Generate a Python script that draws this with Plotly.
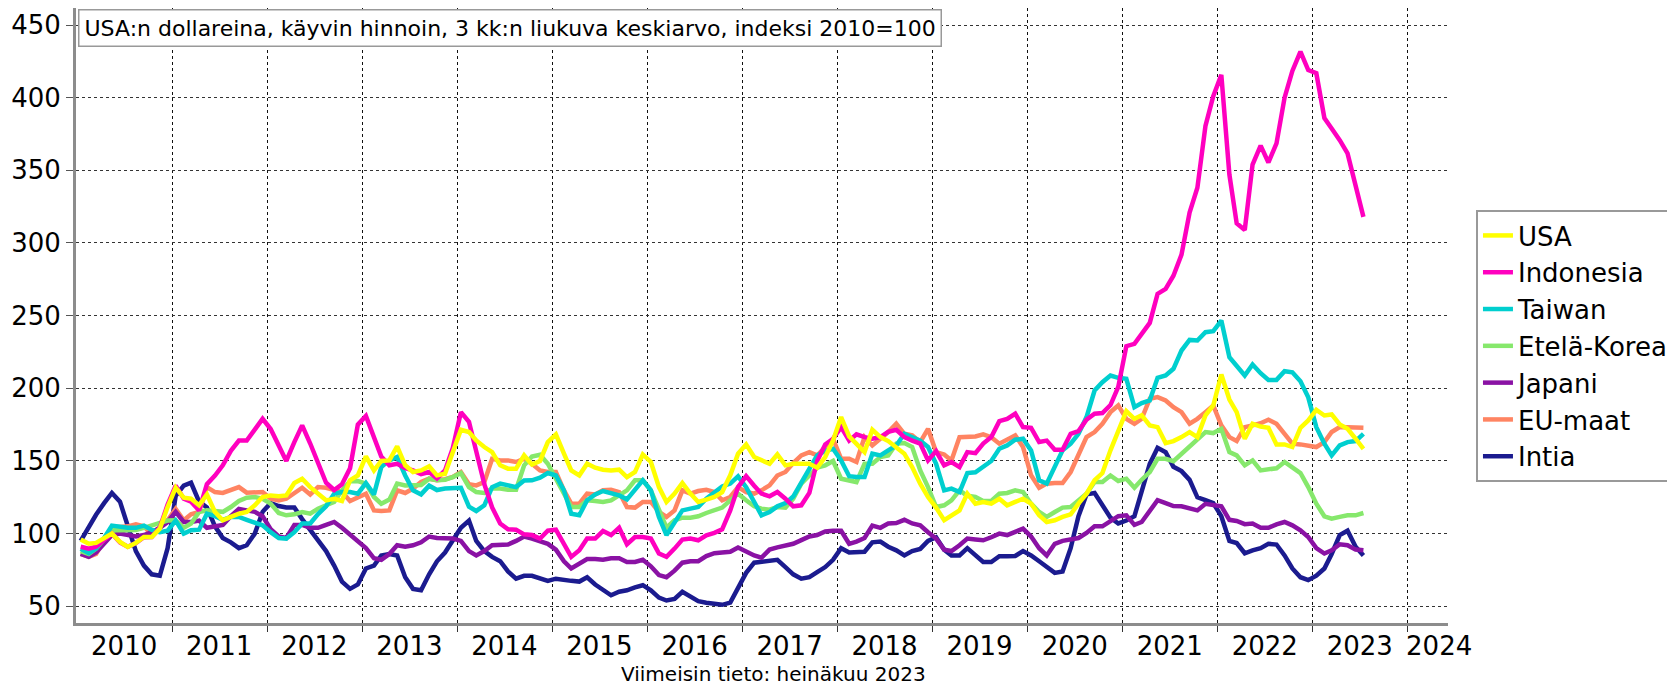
import pandas as pd
import plotly.graph_objects as go

# Monthly 3-month moving average, index 2010=100, Jan 2010 .. Jul 2023
months = pd.date_range("2010-01-01", "2023-07-01", freq="MS") + pd.Timedelta(days=14)

usa = [
    96, 93, 93.6, 96.6, 100, 94.3, 90.8, 93.6, 97.7, 97.7, 103.4, 118.3,
    131.6, 124.7, 124, 119.5, 127, 114.9, 109.2, 111.5, 113.7, 114.9, 119.5, 125.2,
    126.3, 125.7, 126.3, 134.8, 137.8, 132, 127.5, 122.9, 124, 122.5, 136.7, 140.1,
    153.2, 143.5, 150, 150.4, 160, 147, 142.4, 143.5, 146.3, 140.1, 141.2, 157.3,
    171.5, 169.9, 164.1, 159.6, 156.1, 147, 144.7, 144.7, 153.8, 147.5, 150, 163,
    168.3, 155, 143.5, 140.1, 148.1, 145.4, 144, 143.5, 144, 138.9, 142.4, 154.5,
    149.3, 132, 121.8, 127.5, 134.8, 127.5, 121.8, 123.4, 125.2, 128.6, 140.1, 155,
    161.4, 152.7, 150.4, 148.1, 154.5, 147, 148.1, 148.1, 148.1, 145.4, 152.7, 164.1,
    180.2, 166.9, 161.9, 156.1, 171.5, 166.4, 163.7, 159.6, 155, 145.8, 134.4, 125.2,
    117.9, 109.2, 112.6, 116, 127.5, 120.6, 121.8, 120.6, 124, 119.5, 121.8, 124,
    120.6, 112.6, 108, 109.2, 111.5, 113.3, 120.6, 127.5, 136.7, 141.7, 157.3, 171,
    184.3, 179, 181.4, 174.5, 173.3, 162.3, 163.7, 166.4, 169.9, 166.4, 181.3, 188.2,
    209.5, 192.3, 183.6, 165.3, 175.6, 173.7, 172.8, 161.4, 161.4, 159.6, 172.8, 177.9,
    185.2, 181.3, 182, 175.1, 172.1, 165.3, 158.4,
]
indonesia = [
    91, 89.7, 91, 96, 100, 94, 91, 93.5, 97.5, 97.7, 104, 120,
    133, 124, 122, 116, 134, 140, 147, 157, 164, 164, 171, 179,
    172, 160, 150, 163, 174.5, 162, 149, 135, 130, 134, 145, 175,
    181, 166, 153, 147, 148, 145, 143.5, 141, 142.4, 138, 143.5, 159,
    183.6, 177, 157, 134, 118, 107, 103, 102.7, 99.5, 99, 96.6, 102,
    102.7, 93, 84, 88.5, 96.6, 96.6, 101.8, 99, 104, 92.7, 97.7, 97.7,
    96.6, 86.3, 84, 89.7, 95.9, 96.6, 95.4, 98.9, 100.5, 103, 116, 132,
    139.6, 133, 127.5, 125.7, 128.6, 124, 118.8, 119.5, 128, 150, 161.4, 165.3,
    173.3, 164, 168.3, 166.4, 165.3, 166.4, 170, 171.5, 166.4, 164, 162, 150.4,
    156.8, 147, 149.3, 145.8, 156.1, 155.4, 162, 166.4, 177.4, 179, 182.5, 173.3,
    172.8, 163, 164, 157.7, 157.7, 168.7, 170.6, 178.4, 182.5, 183, 188.5, 201,
    229, 230.6, 237, 245, 265, 268.4, 277.5, 292, 321, 338, 380.6, 401,
    415.7, 347, 313.5, 309, 354, 367, 355.4, 368.5, 400, 418.4, 431.7, 419,
    416.8, 386, 378.8, 370.8, 361.6, 338.2, 318,
]
taiwan = [
    89.5, 86.5, 89.7, 97, 105.5, 104.6, 104, 104, 105.5, 102.5, 101, 102,
    109, 100, 102.3, 102.7, 113.7, 112, 109.5, 111.5, 111.5, 109.5, 107.3, 105.7,
    101, 97, 96.6, 101, 107, 107, 113.5, 118.8, 127.5, 128.6, 128.6, 127.5,
    134.8, 127, 145.8, 150.4, 152.7, 140, 129.8, 127, 133, 130, 131, 131,
    131.6, 118.5, 115.6, 119.5, 132, 134.4, 133, 132, 136.5, 136.7, 138.5, 141.7,
    140, 129.8, 113.7, 112.6, 123, 127, 129.3, 128, 126.3, 123.6, 129.8, 136.7,
    129.8, 111.5, 99, 107, 116, 117.2, 118.3, 124, 128.6, 132.5, 134.4, 139.4,
    132, 121.8, 112.6, 114.9, 118.8, 121, 125.5, 135, 144.7, 153.8, 157, 158.4,
    150.4, 139.5, 138.9, 139, 155, 153.8, 157.3, 160.7, 168.7, 166.4, 164, 159.6,
    148, 129.8, 131, 128.6, 141.7, 142.2, 145.8, 150, 158.4, 160.7, 164.6, 165.3,
    157.3, 136.7, 134.4, 145.8, 157.3, 161.9, 168.7, 180.2, 198.5, 204.2, 208.8, 207.2,
    206.5, 187, 189.8, 191.6, 207.2, 208.8, 213.4, 226, 233.3, 232.9, 238.6, 239.3,
    246.6, 221.4, 215.6, 208.8, 216.4, 210.4, 205.8, 205.8, 211.8, 211, 204.9, 193.8,
    173.3, 161.9, 153.8, 160.7, 163, 163.7, 168.7,
]
etela_korea = [
    88, 86, 89.7, 96, 102.3, 102.3, 102.7, 102.5, 104, 105.5, 107, 109,
    109.2, 104, 107, 114.9, 116, 115.5, 115, 118.3, 122.5, 124.7, 125.2, 124,
    120.6, 114.2, 112.6, 113.3, 114.9, 113.7, 117.2, 119.5, 121.8, 129.8, 136, 136.2,
    134.4, 125.2, 120.6, 123.4, 134.4, 133.2, 133.2, 133.5, 137.8, 136.7, 137.1, 138.9,
    141.7, 132, 128.6, 128, 131, 131, 130.2, 130.2, 147, 153, 154.3, 148.1,
    137.8, 127.5, 118.3, 118.3, 122.9, 122.5, 121.8, 122.9, 126.3, 129.8, 136.7, 136.7,
    129.8, 116, 104.1, 109.2, 111, 111, 111.9, 114.2, 116.5, 117.9, 122.9, 127.5,
    122.9, 118.8, 117.2, 116.5, 118.3, 117.9, 124, 134.4, 140, 145.4, 147, 150,
    137.8, 136.2, 135.5, 148.1, 148.1, 152.7, 153.8, 161.9, 162.3, 159.6, 143.5, 132,
    118.3, 119.5, 122.9, 129.8, 126, 125.2, 122.5, 122.5, 127.5, 128, 129.8, 128.6,
    120.6, 114.9, 111.5, 114.9, 117.9, 118.3, 122.5, 127.5, 135.5, 135.5, 140, 136.2,
    137.8, 131.6, 137.1, 142.4, 151.5, 151.5, 149.9, 155, 160.7, 164.6, 169.9, 169.2,
    172.1, 156.1, 153.8, 147, 150.4, 143.5, 144.2, 145, 149.3, 145.8, 141.7, 132,
    120.6, 111.9, 110.3, 111.5, 112.6, 112.6, 114.2,
]
japani = [
    86, 84, 87, 93, 99, 100, 99, 98, 99, 101, 104, 108,
    115, 108, 108, 109, 104, 105, 106, 112, 117, 116, 115, 112,
    103, 98, 97, 106, 106, 104, 104, 106, 108, 104, 99, 94,
    90, 83, 82, 86, 92, 91, 92, 94, 98, 97, 96.6, 96.6,
    95, 88, 85, 88, 92, 92, 92.5, 95, 98, 96.6, 95, 93,
    89, 81, 76, 79, 82.5, 82.5, 82, 83, 83, 80.5, 80.5, 82,
    77.5, 71.5, 70, 74.5, 80, 81, 81, 84.5, 86.5, 87, 87.5, 90.5,
    87.5, 85, 83.5, 89, 90.5, 91.5, 93, 95.5, 98, 99, 101.5, 102,
    102, 93, 94.5, 97, 105.5, 104, 107, 107.3, 109.5, 107, 105.7, 101,
    96.6, 89, 88, 92, 96.6, 96, 95.4, 97.5, 100, 99, 101, 103.4,
    98, 90, 85, 93, 95, 96, 97, 100.5, 105, 105, 109, 112,
    112.6, 106, 108, 115, 123, 121, 119, 118.8, 117.5, 116, 120.5, 119.5,
    118.8, 109.5, 108.7, 106.5, 107, 104, 104, 106.4, 108, 105.7, 102.3, 97.7,
    90, 86.3, 88.5, 92.7, 92, 89, 88.5,
]
eu_maat = [
    86, 84, 86, 95.4, 104.6, 104.6, 105, 106.4, 105, 99, 104, 109.2,
    117, 109.2, 113.3, 114.9, 132, 128.6, 128, 129.8, 132, 128.2, 128.2, 128.6,
    124, 122.9, 124, 128, 131.6, 127, 132, 131.6, 129.8, 128.6, 122.5, 125.2,
    127.5, 116, 115.6, 116, 129.8, 128, 131, 135.5, 137.8, 136.7, 137.4, 139,
    142.4, 134, 133.2, 135.5, 151.5, 150.4, 150.4, 149.3, 151.5, 148.1, 143.5, 142.4,
    142.4, 129.8, 120.6, 120.6, 127.5, 127, 129.8, 130.2, 128.6, 118.3, 117.9, 121.8,
    121.8, 114.9, 111.5, 116, 129.8, 127.5, 129.3, 130.2, 128.6, 122.9, 125.2, 132,
    128.6, 127.5, 129.8, 133.2, 140, 142.4, 148.6, 153.8, 156.1, 153.8, 159.6, 165.3,
    151.5, 151.5, 149.3, 166.4, 160.7, 165.3, 169.9, 175.6, 168.7, 167.6, 163, 172.1,
    156.1, 154.5, 150.4, 166.4, 166.4, 166.9, 168.3, 166.4, 161.9, 164.6, 167.6, 159.6,
    140.1, 131.6, 134.4, 134.8, 134.8, 142.4, 155, 166.4, 169.9, 175.6, 183.6, 188.2,
    179, 175.6, 179, 192.8, 193.9, 191.6, 187, 183.6, 175.6, 179, 183.6, 188.2,
    174.5, 166.4, 163.7, 173.3, 174.5, 176, 178.4, 175.6, 168.7, 161.9, 161.4, 160.7,
    159.6, 163, 169.9, 173.3, 173, 172.8, 172.8,
]
intia = [
    95, 105, 113, 121, 128, 122, 106, 88, 78, 72, 71, 90,
    126, 133, 135, 122, 118, 105, 97, 94, 90, 92, 100, 115,
    121, 119, 118, 118, 110, 103, 95, 88, 78, 67, 62, 65,
    76, 78, 85, 86, 85, 70, 62, 61, 72, 81, 87, 95,
    104, 109, 95, 88, 84, 81, 74, 69, 71, 71, 69, 67.5,
    69, 68, 67.5, 67, 70, 65, 61, 57.6, 60, 61, 63, 64.5,
    61, 56, 54, 55, 60, 57, 53.5, 52.5, 52, 51, 52.5, 62,
    73, 80, 80.5, 81, 82, 77, 72, 69, 70, 73.5, 77, 82,
    90, 87, 87, 87.5, 94, 94.5, 91, 88.5, 85, 88, 89.5, 95,
    97.5, 89, 85, 85, 90, 85, 80.5, 80.5, 84.5, 84.5, 84.6, 88,
    85, 81, 77, 73, 74, 90, 112, 127, 128, 120, 111, 107,
    109, 112, 128, 148, 159, 156, 146, 143, 137, 125, 123, 121,
    112, 95, 93.5, 86.5, 88.5, 90, 93, 92.5, 85, 76, 70, 68,
    71, 76, 86, 99, 102, 91, 85,
]

series_names = ["USA", "Indonesia", "Taiwan", "Etelä-Korea", "Japani", "EU-maat", "Intia"]
series_values = [usa, indonesia, taiwan, etela_korea, japani, eu_maat, intia]
series_colors = ["#ffff00", "#ff00bf", "#00cfcf", "#86e86c", "#8a12a4", "#ff8462", "#1b1b8f"]

year_labels = [str(y) for y in range(2010, 2025)]
year_label_pos = [f"{y}-07-01" for y in range(2010, 2024)] + ["2024-05-01"]
year_starts = [f"{y}-01-01" for y in range(2011, 2025)]
y_ticks = [50, 100, 150, 200, 250, 300, 350, 400, 450]

FONT = "DejaVu Sans"

fig = go.Figure()
# draw in reverse so USA ends up on top; legendrank keeps legend order
items = list(zip(series_names, series_values, series_colors))
for rank, (name, vals, col) in reversed(list(enumerate(items))):
    assert len(vals) == len(months), (name, len(vals))
    fig.add_trace(go.Scatter(
        x=months, y=vals, name=name, mode="lines",
        line=dict(color=col, width=4.5),
        legendgroup=name, legendrank=rank + 1,
    ))

# the page body adds an 8px offset; figure size/margins compensate
fig.update_layout(
    width=1667, height=677,
    margin=dict(l=68, r=227, t=0, b=62, autoexpand=False),
    paper_bgcolor="white", plot_bgcolor="white",
    font=dict(family=FONT, size=22, color="black"),
    showlegend=True,
    legend=dict(
        x=1.1647, y=0.6715, xanchor="right", yanchor="top",
        traceorder="grouped", tracegroupgap=0,
        bordercolor="#999999", borderwidth=2, bgcolor="white",
        font=dict(family=FONT, size=26, color="black"),
        itemwidth=30,
    ),
    xaxis=dict(
        type="date",
        range=["2009-12-28", "2024-06-04"],
        tickmode="array", tickvals=year_label_pos, ticktext=year_labels,
        ticks="", showgrid=False,
        showline=True, linecolor="#8c8c8c", linewidth=3,
        tickfont=dict(family=FONT, size=26, color="black"),
        ticklabelstandoff=-2,
        zeroline=False,
        minor=dict(
            tickmode="array", tickvals=year_starts,
            ticks="outside", ticklen=6, tickwidth=1, tickcolor="#333333",
            showgrid=True, gridcolor="#111111", griddash="dot", gridwidth=1,
        ),
    ),
    yaxis=dict(
        range=[38.5, 461.7],
        tickmode="array", tickvals=y_ticks,
        ticks="outside", ticklen=7, tickwidth=1, tickcolor="#555555",
        showgrid=True, gridcolor="#333333", griddash="dot", gridwidth=1,
        showline=True, linecolor="#8c8c8c", linewidth=3,
        tickfont=dict(family=FONT, size=26, color="black"),
        zeroline=False,
    ),
    annotations=[
        dict(
            text="USA:n dollareina, käyvin hinnoin, 3 kk:n liukuva keskiarvo, indeksi 2010=100",
            xref="paper", yref="paper", x=0.0015, y=0.999, xanchor="left", yanchor="top",
            showarrow=False, bgcolor="white", bordercolor="#999999", borderwidth=1.5, borderpad=5,
            font=dict(family=FONT, size=22, color="black"),
        ),
        dict(
            text="Viimeisin tieto: heinäkuu 2023",
            xref="paper", yref="paper", x=0.5086, y=-0.083, xanchor="center", yanchor="middle",
            showarrow=False, font=dict(family=FONT, size=20, color="black"),
        ),
    ],
)

fig.write_html("out.html")
